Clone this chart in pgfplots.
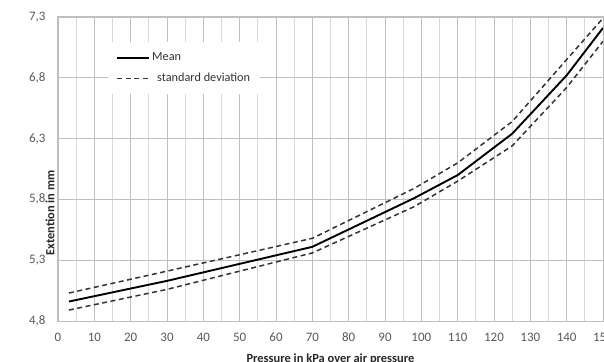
\documentclass[border=0pt]{standalone}
\usepackage{fontspec}
\setmainfont{Carlito}[Numbers=Lining]
\usepackage{pgfplots}
\pgfplotsset{compat=1.18}
\definecolor{tickgray}{HTML}{595959}
\definecolor{majgrid}{HTML}{BFBFBF}
\definecolor{mingrid}{HTML}{D9D9D9}
\definecolor{dashgray}{HTML}{333333}
\begin{document}
\begin{tikzpicture}
\begin{axis}[
  scale only axis,
  width=545bp, height=304bp,
  xmin=0, xmax=150, ymin=4.8, ymax=7.3,
  xtick={0,10,...,150},
  ytick={4.8,5.3,5.8,6.3,6.8,7.3},
  yticklabels={4{,}8,5{,}3,5{,}8,6{,}3,6{,}8,7{,}3},
  minor x tick num=1,
  xmajorgrids, ymajorgrids, xminorgrids,
  major grid style={draw=majgrid, line width=0.8bp},
  minor grid style={draw=mingrid, line width=0.8bp},
  axis line style={draw=majgrid, line width=1bp},
  tick style={draw=none},
  major tick length=0pt, minor tick length=0pt,
  /pgf/number format/assume math mode=true,
  ticklabel style={font=\fontsize{13}{15}\selectfont, text=tickgray},
  xticklabel style={yshift=-8bp, text height=9bp, text depth=1bp},
  yticklabel style={xshift=-9bp},
  xlabel={\textbf{Pressure in kPa over air pressure}},
  ylabel={\textbf{Extention in mm}},
  label style={font=\fontsize{12.5}{14}\selectfont, text=black!85},
  xlabel style={at={(axis description cs:0.5,0)}, anchor=north, yshift=-29bp},
  ylabel style={at={(axis description cs:0,0.5)}, anchor=south, xshift=-44bp},
  legend style={at={(rel axis cs:0.092,0.918)}, anchor=north west, fill=white, draw=none,
    font=\fontsize{12.3}{14}\selectfont, text=dashgray, row sep=7bp,
    inner xsep=8bp, inner ysep=9bp,
    nodes={inner xsep=2bp}},
  legend cell align=left,
  legend image code/.code={\draw[#1] (0bp,0bp) -- (32bp,0bp);},
]
\addplot[black, line width=1.9bp] coordinates {
 (3,4.96) (30,5.13) (70,5.41) (98,5.81) (110,6.00) (125,6.34) (140,6.82) (150,7.21)};
\addlegendentry{Mean}
\addplot[dashgray, line width=1.5bp, dash pattern=on 5bp off 3.5bp] coordinates {
 (3,5.03) (30,5.21) (70,5.48) (98,5.89) (110,6.10) (125,6.44) (140,6.95) (150,7.29)};
\addlegendentry{\hspace{5bp}standard deviation}
\addplot[dashgray, line width=1.5bp, dash pattern=on 5bp off 3.5bp, forget plot] coordinates {
 (3,4.89) (30,5.06) (70,5.36) (98,5.74) (110,5.95) (125,6.24) (140,6.72) (150,7.10)};
\end{axis}
\pgfresetboundingbox
\path[use as bounding box] (-58bp,-41bp) rectangle (546bp,321bp);
\end{tikzpicture}
\end{document}
